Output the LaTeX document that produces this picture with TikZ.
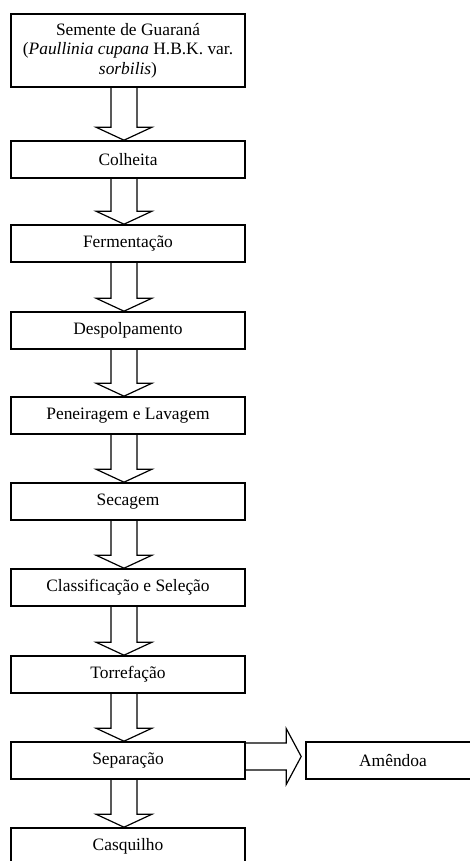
\documentclass[tikz,border=0pt]{standalone}
\usepackage{fontspec}
\setmainfont{Liberation Serif}
\usetikzlibrary{calc}
\tikzset{
  stagebox/.style={draw, line width=1.6pt, minimum width=234pt, minimum height=37pt,
    inner sep=0pt, align=center, font=\fontsize{17.4}{19.5}\selectfont},
  fatline/.style={line width=1.2pt, line join=miter}
}
% outline arrow pointing down from box #1 to box #2
\newcommand{\fatdown}[2]{%
  \draw[fatline] ($(#1.south -| axis)+(-13,0)$) -- ($(#2.north -| axis)+(-13,-13)$)
    -- ++(-15,0) -- (#2.north -| axis) -- ++(28,-13) -- ++(-15,0)
    -- ($(#1.south -| axis)+(13,0)$);}

\begin{document}
\begin{tikzpicture}[x=1pt,y=-1pt]
\useasboundingbox (0,0) rectangle (469,861);
\coordinate (axis) at (124,0);
\coordinate (haxis) at (0,756.5);

\node[stagebox, minimum height=73pt] (semente) at (128,50.5)
  {Semente de Guaraná\\(\textit{Paullinia cupana} H.B.K. var.\\\textit{sorbilis})};
\node[stagebox] (colheita) at (128,159.5) {Colheita};
\node[stagebox] (ferment) at (128,243.5) {Fermentação};
\node[stagebox] (despolp) at (128,330.5) {Despolpamento};
\node[stagebox] (peneira) at (128,415.5) {Peneiragem e Lavagem};
\node[stagebox] (secagem) at (128,501.5) {Secagem};
\node[stagebox] (classif) at (128,587.5) {Classificação e Seleção};
\node[stagebox] (torref) at (128,674.5) {Torrefação};
\node[stagebox] (separa) at (128,760.5) {Separação};
\node[stagebox] (casquilho) at (128,846.5) {Casquilho};
\node[stagebox, minimum width=174pt] (amendoa) at (393,760.5) {Amêndoa};

\fatdown{semente}{colheita}
\fatdown{colheita}{ferment}
\fatdown{ferment}{despolp}
\fatdown{despolp}{peneira}
\fatdown{peneira}{secagem}
\fatdown{secagem}{classif}
\fatdown{classif}{torref}
\fatdown{torref}{separa}
\fatdown{separa}{casquilho}

% side arrow to the kernel
\draw[fatline] ($(separa.east |- haxis)+(0,-13.5)$) -- ($(amendoa.west |- haxis)+(-19,-13.5)$)
  -- ++(0,-14.5) -- ($(amendoa.west |- haxis)+(-4,0)$) -- ($(amendoa.west |- haxis)+(-19,28)$)
  -- ++(0,-14.5) -- ($(separa.east |- haxis)+(0,13.5)$);
\end{tikzpicture}
\end{document}
